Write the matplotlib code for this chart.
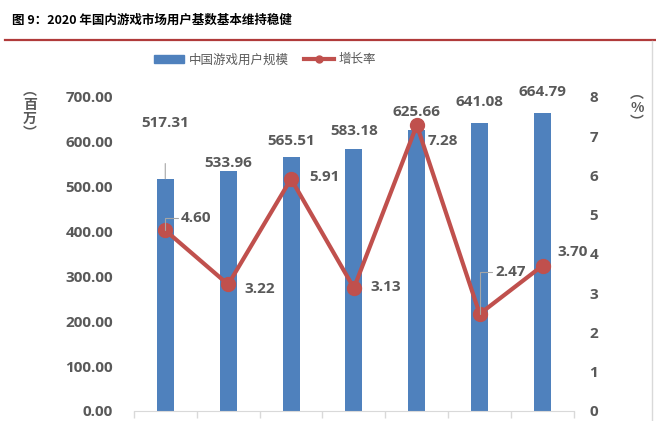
import numpy as np
import matplotlib.pyplot as plt
from matplotlib.patches import Patch
from matplotlib.lines import Line2D

# data
users = [517.31, 533.96, 565.51, 583.18, 625.66, 641.08, 664.79]
growth = [4.60, 3.22, 5.91, 3.13, 7.28, 2.47, 3.70]
left_ticks = [0, 100, 200, 300, 400, 500, 600, 700]
right_ticks = [0, 1, 2, 3, 4, 5, 6, 7, 8]
bar_name = "中国游戏用户规模"
line_name = "增长率"
title = "图 9：2020 年国内游戏市场用户基数基本维持稳健"

BLUE = "#4f81bd"
RED = "#c0504d"
GREY = "#595959"
NUM = ["Open Sans", "Noto Sans CJK SC", "DejaVu Sans"]
CJK = ["Noto Sans CJK SC", "DejaVu Sans"]

fig = plt.figure(figsize=(6.56, 4.21), dpi=100)
ax = fig.add_axes([0.204, 0.024, 0.671, 0.746])
ax2 = ax.twinx()

x = np.arange(len(users))
ax.bar(x, users, width=0.27, color=BLUE, zorder=2)
ax.set_xlim(-0.5, len(users) - 0.5)
ax.set_ylim(0, 700)
ax.set_yticks(left_ticks)
ax.set_yticklabels([f"{v:.2f}" for v in left_ticks], family=NUM,
                   fontweight="bold", fontsize=11, color=GREY)
ax.tick_params(axis="y", length=0, pad=15)
ax.set_xticks(np.arange(-0.5, len(users)))
ax.set_xticklabels([])
ax.tick_params(axis="x", length=5, color="#d9d9d9", width=1)
for s in ["top", "left", "right"]:
    ax.spines[s].set_visible(False)
ax.spines["bottom"].set_color("#d9d9d9")

ax2.plot(x, growth, color=RED, lw=3, marker="o", ms=10, zorder=3)
ax2.set_ylim(0, 8)
ax2.set_yticks(right_ticks)
ax2.set_yticklabels([str(v) for v in right_ticks], family=NUM,
                    fontweight="bold", fontsize=11, color=GREY)
ax2.tick_params(axis="y", length=0, pad=11)
for s in ["top", "left", "right", "bottom"]:
    ax2.spines[s].set_visible(False)

lead = dict(arrowstyle="-", color="#a6a6a6", lw=0.8)

# bar value labels (offsets in points)
bar_off = [(0, 40), (0, 6), (0, 12), (0, 13), (0, 13), (0, 15), (0, 15)]
for i, (v, off) in enumerate(zip(users, bar_off)):
    kw = {}
    if i == 0:
        kw["arrowprops"] = dict(lead, shrinkA=22, shrinkB=0)
    ax2.annotate(f"{v:.2f}", xy=(i, v * 8 / 700), xytext=off,
                 textcoords="offset points", ha="center", va="center",
                 family=NUM, fontweight="bold", fontsize=11, color=GREY,
                 zorder=5, **kw)

# growth labels
g_off = [(22, 9), (23, -3), (24, 1.5), (23, 0.5), (19, -11.5), (22, 30), (22, 10)]
for i, (v, off) in enumerate(zip(growth, g_off)):
    kw = {}
    if i in (0, 5):
        kw["arrowprops"] = dict(lead, shrinkA=0, shrinkB=0,
                                connectionstyle="angle,angleA=0,angleB=90",
                                relpos=(0, 0.5))
    ax2.annotate(f"{v:.2f}", xy=(i, v), xytext=off,
                 textcoords="offset points", ha="center", va="center",
                 family=NUM, fontweight="bold", fontsize=11, color=GREY,
                 zorder=5, **kw)

# axis unit labels, stacked vertically
fig.text(30 / 656, 1 - 112 / 421, "︵\n百\n万\n︶", family=CJK, fontsize=10,
         fontweight="bold", color=GREY, ha="center", va="center", linespacing=1.0)
fig.text(637 / 656, 1 - 108 / 421, "︵\n%\n︶", family=CJK, fontsize=10,
         fontweight="bold", color=GREY, ha="center", va="center", linespacing=1.0)

# legend
handles = [Patch(color=BLUE, label=bar_name),
           Line2D([0], [0], color=RED, lw=3, marker="o", ms=5, label=line_name)]
leg = fig.legend(handles=handles, loc="center", ncol=2, frameon=False,
                 bbox_to_anchor=(265 / 656, 1 - 60 / 421),
                 prop=dict(family=CJK, size=9), handlelength=2.4,
                 handleheight=0.6, columnspacing=1.2, handletextpad=0.4)
for t in leg.get_texts():
    t.set_color(GREY)

# title and rules
fig.text(12 / 656, 1 - 20 / 421, title, family=CJK, fontsize=9,
         fontweight="bold", color="black", ha="left", va="center")
fig.add_artist(Line2D([5 / 656, 1], [1 - 40 / 421] * 2, color="#b03a3a", lw=1.6))
fig.add_artist(Line2D([652 / 656] * 2, [0, 1 - 41 / 421], color="#d9d9d9", lw=1))

fig.savefig("out.png", dpi=100)
